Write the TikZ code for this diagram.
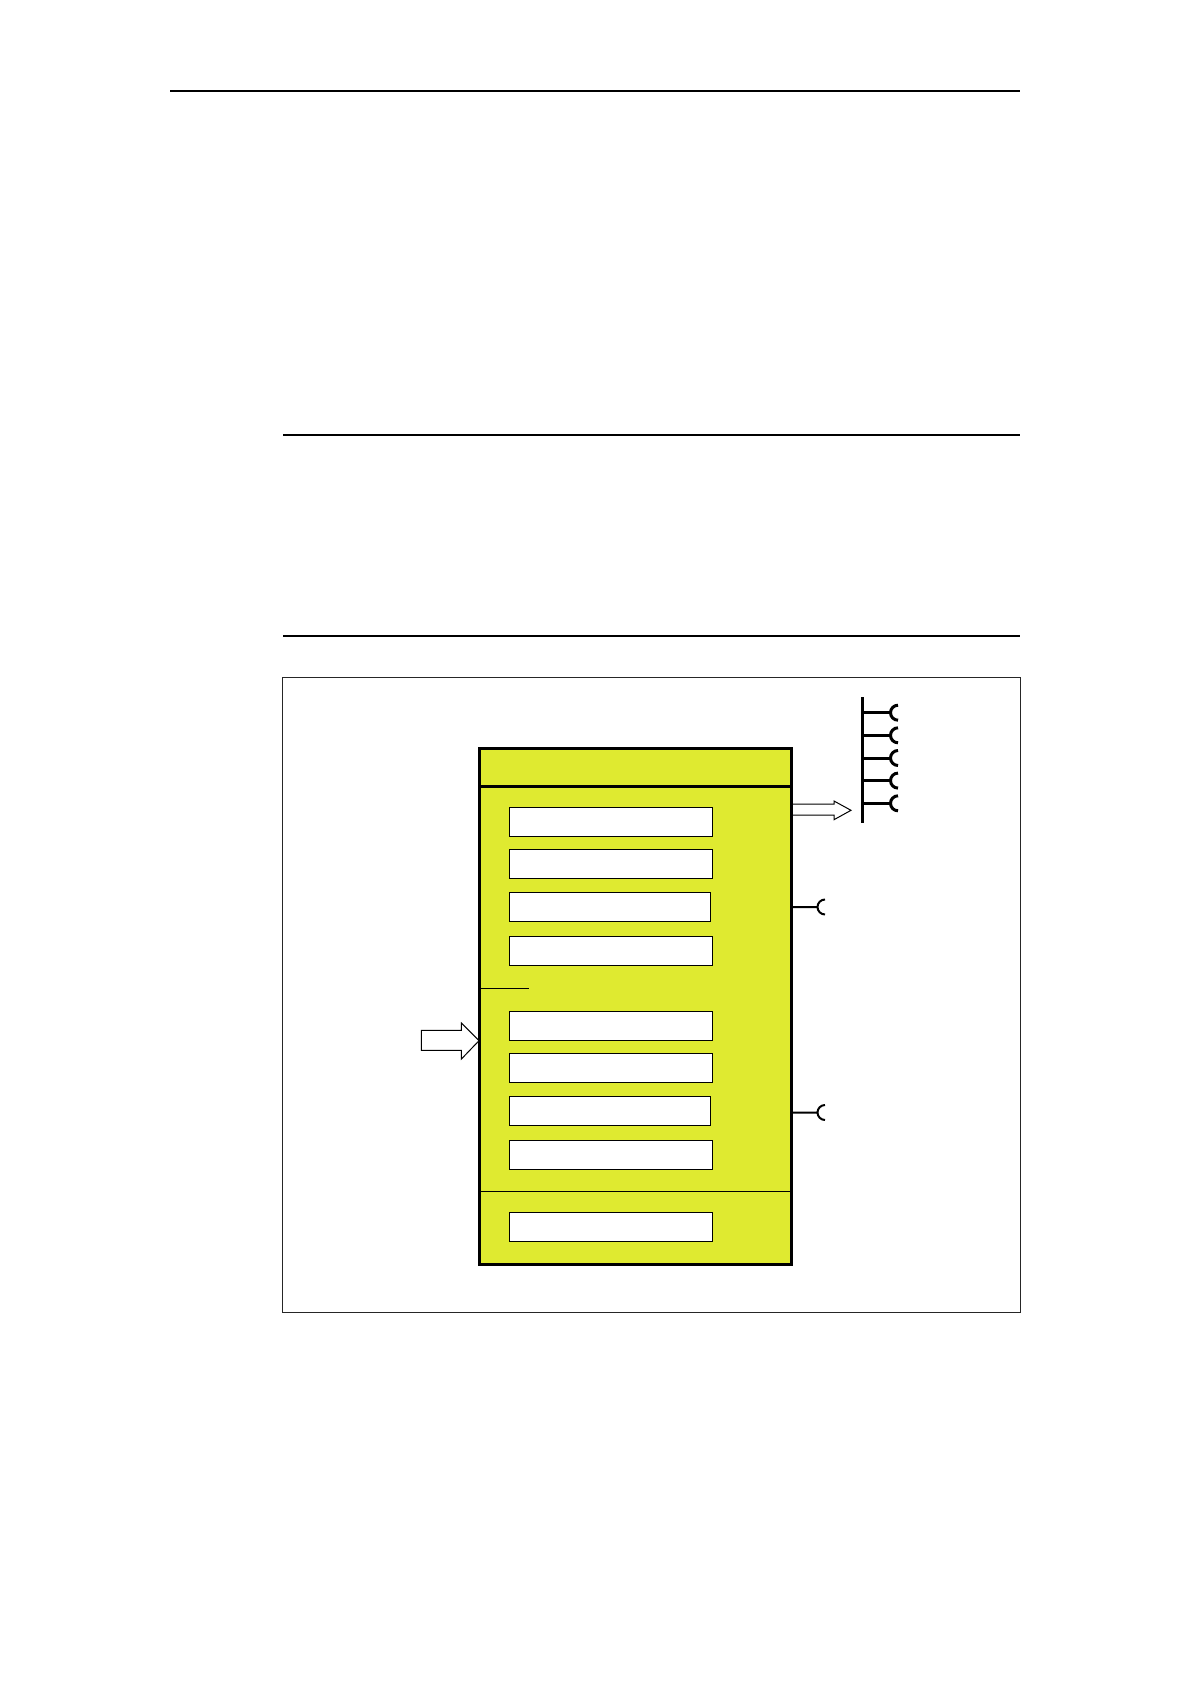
\documentclass[tikz,border=0pt]{standalone}
\usetikzlibrary{calc}
\definecolor{boxyellow}{RGB}{223,234,48}
\begin{document}
\begin{tikzpicture}[x=1pt,y=-1pt,
  rule/.style={line width=2pt, black},
  frame/.style={draw=black!85, line width=1pt},
  mainbox/.style={draw=black, line width=3pt, fill=boxyellow, inner sep=0pt, outer sep=0pt, anchor=north west, minimum width=312.5pt, minimum height=516pt},
  slot/.style={draw=black, fill=white, line width=1.1pt, inner sep=0pt, outer sep=0pt, anchor=north west, minimum height=29pt, minimum width=202.8pt},
  slotshort/.style={slot, minimum width=201.4pt},
  hollowarrow/.style={draw=black, fill=white, line width=1pt, line join=miter},
  busline/.style={line width=3pt, black},
  socket/.style={line width=2pt, black}
]
\useasboundingbox (0,0) rectangle (1190,1684);

% page rules
\coordinate (r1a) at (170,91);
\coordinate (r1b) at (1020,91);
\coordinate (r2a) at (283,435);
\coordinate (r2b) at (1020,435);
\coordinate (r3a) at (283,636);
\coordinate (r3b) at (1020,636);
\draw[rule] (r1a) -- (r1b);
\draw[rule] (r2a) -- (r2b);
\draw[rule] (r3a) -- (r3b);

% figure frame
\node[frame, inner sep=0pt, outer sep=0pt, anchor=north west, minimum width=737.5pt, minimum height=635pt] (fig) at (282.5,677.5) {};

% main component box
\node[mainbox] (main) at (479,748.3) {};
\draw[line width=3pt] (main.west |- 0,786.3) -- (main.east |- 0,786.3);
\draw[line width=1pt] (main.west |- 0,1191.3) -- (main.east |- 0,1191.3);
\draw[line width=1pt] (main.west |- 0,988.3) -- (528.7,988.3);

% slots
\node[slot] (s1) at (509.4,807.3) {};
\node[slot] (s2) at (509.4,849.3) {};
\node[slotshort] (s3) at (509.4,892.3) {};
\node[slot] (s4) at (509.4,936.3) {};
\node[slot] (s5) at (509.4,1011.3) {};
\node[slot] (s6) at (509.4,1053.3) {};
\node[slotshort] (s7) at (509.4,1096.3) {};
\node[slot] (s8) at (509.4,1140.3) {};
\node[slot] (s9) at (509.4,1212.3) {};

% input arrow (left)
\coordinate (intip) at (main.west |- 0,1040.7);
\draw[hollowarrow] (421.4,1030.3) -- (461.4,1030.3) -- (461.4,1023) -- (intip) -- (461.4,1059) -- (461.4,1050.3) -- (421.4,1050.3) -- cycle;

% output arrow (right) to bus
\coordinate (outtip) at (851,810.3);
\draw[hollowarrow] (793,804) -- (834,804) -- (834,801) -- (outtip) -- (834,819.7) -- (834,815) -- (793,815);

% bus with sockets
\coordinate (bustop) at (862,697);
\coordinate (busbot) at (862,822.7);
\draw[busline] (bustop) -- (busbot);
\foreach \yy in {712.7,735.3,758.0,780.6,803.3}{
  \draw[busline] (862,\yy) -- (890.5,\yy);
  \draw[busline] (898,\yy+7.5) arc[start angle=90, end angle=270, radius=7.5];
}

% side sockets
\draw[socket] (main.east |- 0,907) -- (817.5,907) ++(7.5,7.5) arc[start angle=90, end angle=270, radius=7.5];
\draw[socket] (main.east |- 0,1112.5) -- (817.5,1112.5) ++(7.5,7.5) arc[start angle=90, end angle=270, radius=7.5];
\end{tikzpicture}
\end{document}
